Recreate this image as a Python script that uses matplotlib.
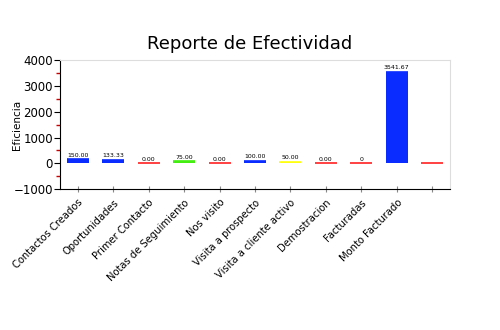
import numpy as np
import matplotlib.pyplot as plt
from matplotlib.ticker import MultipleLocator, FixedLocator

categorias = ['Contactos Creados', 'Oportunidades', 'Primer Contacto',
              'Notas de Seguimiento', 'Nos visito', 'Visita a prospecto',
              'Visita a cliente activo', 'Demostracion', 'Facturadas',
              'Monto Facturado', '']
valores = [150.00, 133.33, 0.00, 75.00, 0.00, 100.00, 50.00, 0.00, 0, 3541.67, 0]
etiquetas = ['150.00', '133.33', '0.00', '75.00', '0.00', '100.00', '50.00',
             '0.00', '0', '3541.67', '']
colores = ['#0a2cff', '#0a2cff', '#ff2020', '#44ee11', '#ff2020', '#0a2cff',
           '#ffff10', '#ff2020', '#ff2020', '#0a2cff', '#ff2020']

plt.rcParams['font.family'] = ['DejaVu Sans']

fig = plt.figure(figsize=(5, 3.3), dpi=100)
ax = fig.add_axes([0.12, 0.427, 0.78, 0.39])

x = np.arange(len(categorias))
ancho = 0.62
ax.bar(x, valores, width=ancho, color=colores, linewidth=0)
# borde superior de cada barra (las de valor 0 quedan como una linea)
ax.hlines(valores, x - ancho / 2, x + ancho / 2, colors=colores, linewidth=1.2)

# etiquetas de valor encima de cada barra
for xi, v, t in zip(x, valores, etiquetas):
    if t:
        ax.text(xi, v + 70, t, ha='center', va='bottom', fontsize=4.5)

ax.set_xlim(-0.5, len(categorias) - 0.5)
ax.set_ylim(-1000, 4000)
ax.yaxis.set_major_locator(MultipleLocator(1000))
ax.yaxis.set_minor_locator(FixedLocator([-500, 500, 1500, 2500, 3500]))
ax.tick_params(axis='y', which='major', length=4, labelsize=8.5, pad=1)
ax.tick_params(axis='y', which='minor', length=3, width=1, color='#cc0000')
ax.set_xticks(x)
ax.set_xticklabels(categorias, rotation=45, ha='right', rotation_mode='anchor',
                   fontsize=7.2)
ax.tick_params(axis='x', direction='inout', length=4, color='#888888', pad=4)
ax.set_ylabel('Eficiencia', fontsize=7.5)
ax.yaxis.set_label_coords(-0.098, 0.5)

for lado in ['top', 'right']:
    ax.spines[lado].set_color('#dddddd')
    ax.spines[lado].set_linewidth(0.8)

fig.suptitle('Reporte de Efectividad', fontsize=13, x=0.5, y=0.895)

plt.savefig('out.png', dpi=100)
